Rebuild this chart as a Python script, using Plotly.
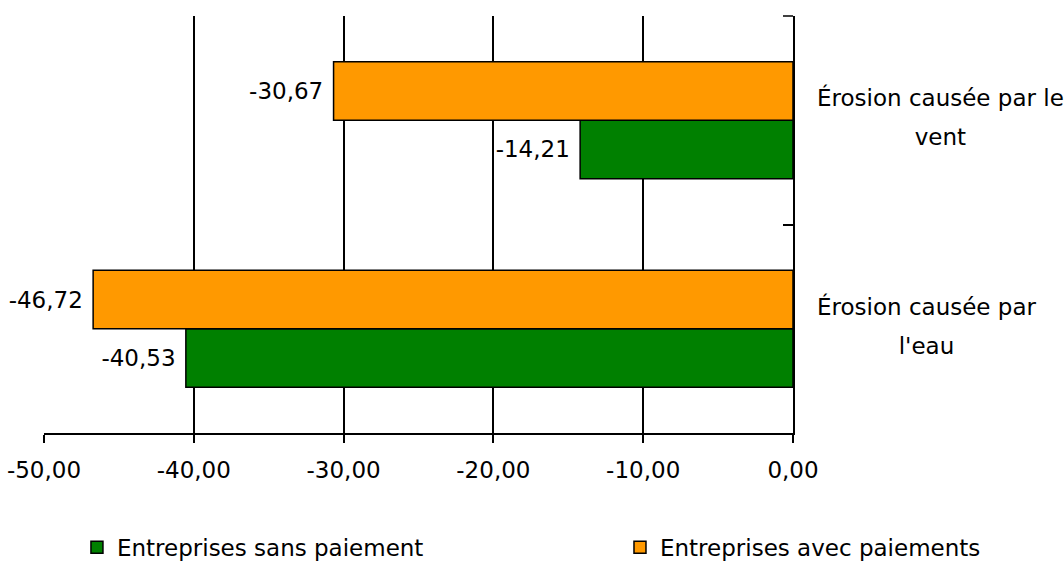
import plotly.graph_objects as go

categories = ["Érosion causée par le vent", "Érosion causée par l'eau"]
category_lines = [["Érosion causée par le", "vent"], ["Érosion causée par", "l'eau"]]
sans_paiement = [-14.21, -40.53]
avec_paiements = [-30.67, -46.72]
series_names = ["Entreprises sans paiement", "Entreprises avec paiements"]
series_colors = ["#008000", "#FF9900"]
x_ticks = [-50, -40, -30, -20, -10, 0]
x_ticktext = ["-50,00", "-40,00", "-30,00", "-20,00", "-10,00", "0,00"]

FONT = "DejaVu Sans"
fig = go.Figure()
legends = ["legend", "legend2"]
for name, vals, col, lg in zip(series_names, [sans_paiement, avec_paiements], series_colors, legends):
    fig.add_trace(go.Bar(
        y=categories, x=vals, orientation="h", name=name, legend=lg,
        marker=dict(color=col, line=dict(color="black", width=1.5)),
        texttemplate="%{x:.2f}\u00a0", textposition="outside",
        constraintext="none", cliponaxis=False,
        textfont=dict(family=FONT, size=23, color="black"),
    ))

for cat, lines in zip(categories, category_lines):
    txt = "<br>".join("<span style='font-size:23px'>%s</span>" % ln for ln in lines)
    fig.add_annotation(
        x=1.029, xref="paper", xanchor="left", y=cat, yref="y", yanchor="middle",
        yshift=3, text=txt, align="center", showarrow=False,
        font=dict(family=FONT, size=30, color="black"),
    )

# top boundary tick of the right-hand category axis
fig.add_shape(type="line", xref="paper", yref="paper", x0=1 - 10 / 749, x1=1, y0=1, y1=1,
              line=dict(color="black", width=1.5))

legend_style = dict(orientation="h", xanchor="left", y=-0.2225, yanchor="top",
                    font=dict(family=FONT, size=23, color="black"),
                    bgcolor="rgba(0,0,0,0)")
fig.update_layout(
    width=1064, height=563,
    margin=dict(l=44, r=271, t=16, b=130, autoexpand=False),
    paper_bgcolor="white", plot_bgcolor="white",
    barmode="group", bargap=0.44, bargroupgap=0,
    separators=", ",
    font=dict(family=FONT, size=23, color="black"),
    showlegend=True,
    legend=dict(x=0.044, **legend_style),
    legend2=dict(x=0.769, **legend_style),
    xaxis=dict(range=[-50, 0], tickvals=x_ticks, ticktext=x_ticktext,
               showgrid=True, gridcolor="black", gridwidth=1.5,
               showline=True, linecolor="black", linewidth=2,
               ticks="outside", ticklen=8, tickwidth=1.5, tickcolor="black",
               ticklabelstandoff=7, zeroline=False, automargin=False,
               tickfont=dict(family=FONT, size=23, color="black")),
    yaxis=dict(categoryorder="array", categoryarray=categories[::-1],
               side="right", showline=True, linecolor="black", linewidth=2,
               ticks="inside", ticklen=10, tickwidth=1.5, tickcolor="black",
               tickson="boundaries", showticklabels=False, showgrid=False,
               zeroline=False, automargin=False),
)

fig.write_html("out.html")
